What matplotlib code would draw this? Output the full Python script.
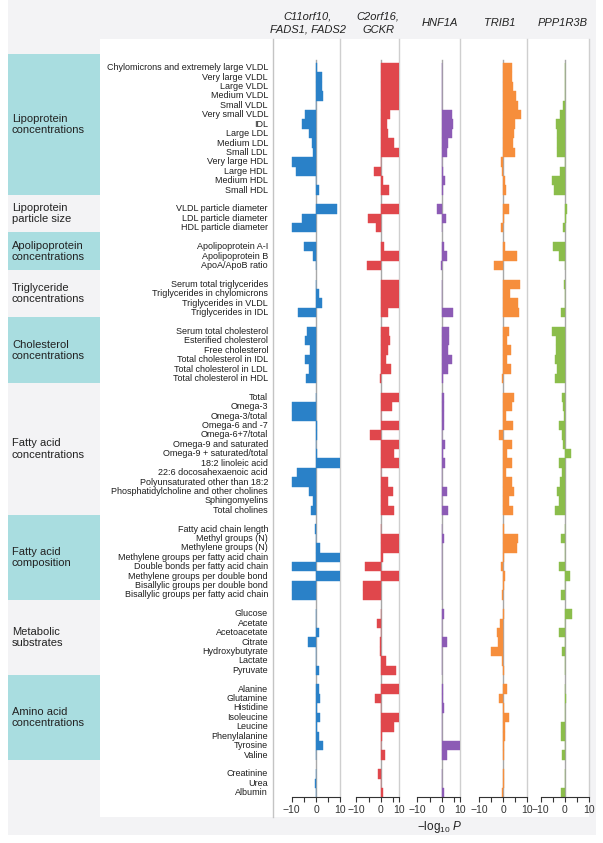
import matplotlib
matplotlib.use('Agg')
import matplotlib.pyplot as plt
from matplotlib.patches import Rectangle
from matplotlib.lines import Line2D

plt.rcParams['font.family'] = ['Liberation Sans', 'DejaVu Sans']
plt.rcParams['mathtext.fontset'] = 'custom'
plt.rcParams['mathtext.rm'] = 'Liberation Sans'
plt.rcParams['mathtext.it'] = 'Liberation Sans:italic'

# ---------------- data ----------------
group_names = ["Lipoprotein\nconcentrations", "Lipoprotein\nparticle size",
               "Apolipoprotein\nconcentrations", "Triglyceride\nconcentrations",
               "Cholesterol\nconcentrations", "Fatty acid\nconcentrations",
               "Fatty acid\ncomposition", "Metabolic\nsubstrates",
               "Amino acid\nconcentrations", ""]
group_sizes = [14, 3, 3, 4, 6, 13, 8, 7, 8, 3]

metabolites = [
    "Chylomicrons and extremely large VLDL", "Very large VLDL", "Large VLDL", "Medium VLDL",
    "Small VLDL", "Very small VLDL", "IDL", "Large LDL", "Medium LDL", "Small LDL",
    "Very large HDL", "Large HDL", "Medium HDL", "Small HDL",
    "VLDL particle diameter", "LDL particle diameter", "HDL particle diameter",
    "Apolipoprotein A-I", "Apolipoprotein B", "ApoA/ApoB ratio",
    "Serum total triglycerides", "Triglycerides in chylomicrons", "Triglycerides in VLDL",
    "Triglycerides in IDL",
    "Serum total cholesterol", "Esterified cholesterol", "Free cholesterol",
    "Total cholesterol in IDL", "Total cholesterol in LDL", "Total cholesterol in HDL",
    "Total", "Omega-3", "Omega-3/total", "Omega-6 and -7", "Omega-6+7/total",
    "Omega-9 and saturated", "Omega-9 + saturated/total", "18:2 linoleic acid",
    "22:6 docosahexaenoic acid", "Polyunsaturated other than 18:2",
    "Phosphatidylcholine and other cholines", "Sphingomyelins", "Total cholines",
    "Fatty acid chain length", "Methyl groups (N)", "Methylene groups (N)",
    "Methylene groups per fatty acid chain", "Double bonds per fatty acid chain",
    "Methylene groups per double bond", "Bisallylic groups per double bond",
    "Bisallylic groups per fatty acid chain",
    "Glucose", "Acetate", "Acetoacetate", "Citrate", "Hydroxybutyrate", "Lactate", "Pyruvate",
    "Alanine", "Glutamine", "Histidine", "Isoleucine", "Leucine", "Phenylalanine",
    "Tyrosine", "Valine",
    "Creatinine", "Urea", "Albumin"]

genes = ["C11orf10,\nFADS1, FADS2", "C2orf16,\nGCKR", "HNF1A", "TRIB1", "PPP1R3B"]

fads = [0.4, 2.4, 2.4, 3.0, 0.2, -4.5, -5.6, -2.7, -1.8, -1.4, -10, -8.4, -0.2, 1.4,
        8.5, -5.6, -10,
        -4.8, -1.1, 0.2,
        0.2, 1.2, 2.3, -7.5,
        -3.6, -4.4, -2.5, -4.7, -2.7, -4.1,
        0.2, -10, -10, 0.4, 0.3, 0.2, 0.3, 10, -8, -10, -2.9, -1.1, -2.2,
        -0.4, 0.2, 1.6, 10, -10, 10, -10, -10,
        0.2, 0.2, 1.2, -3.2, 0.2, 0.2, 1.4,
        1.2, 1.6, 0.3, 1.6, 0.3, 1.4, 2.7, 0.2,
        0.2, -0.4, 0.2]
gckr = [15, 15, 15, 15, 15, 3.8, 2.7, 3.2, 5.5, 15, 0.2, -2.6, 1.1, 3.6,
        15, -5.3, -1.9,
        1.4, 15, -5.6,
        15, 15, 15, 3.2,
        3.6, 3.8, 3.2, 2.2, 4.1, -0.3,
        15, 4.5, 0.2, 15, -4.4, 15, 5.5, 15, 0.2, 3.2, 4.9, 3.2, 5.5,
        0.2, 15, 15, 0.8, -6.4, 15, -7.4, -7.4,
        0.2, -1.6, 0.3, -0.4, -0.4, 2.2, 6.4,
        15, -2.5, 0.2, 15, 5.5, 0.7, 0.2, 1.8,
        -1.2, 0.2, 0.8]
hnf1a = [0.2, 0.2, 0.2, 0.2, 0.2, 4.1, 4.8, 4.1, 2.7, 2.0, 0.2, 0.7, 1.4, 0.4,
         -2.0, 1.8, 0.2,
         1.1, 2.0, -0.3,
         0.2, 0.2, 0.2, 4.8,
         3.0, 3.2, 2.7, 4.2, 2.7, 0.7,
         1.1, 1.0, 0.8, 1.0, 0.3, 1.2, 0.7, 1.4, 0.2, 0.2, 2.2, 0.3, 2.5,
         0.2, 0.8, 0.2, 0.2, 0.2, 0.2, 0.2, 0.2,
         1.0, 0.2, 0.2, 2.2, 0.2, 0.2, 0.2,
         0.7, 0.7, 0.8, 0.3, 0.3, 0.3, 9.0, 2.2,
         0.2, 0.2, 1.1]
trib1 = [3.4, 3.7, 4.1, 5.2, 6.2, 7.1, 4.8, 4.5, 4.1, 4.8, -1.1, -0.7, 0.8, 1.1,
         2.3, 0.2, -1.0,
         0.8, 5.8, -3.7,
         6.8, 2.7, 6.2, 6.6,
         2.3, 1.6, 3.0, 1.6, 3.2, -0.7,
         4.5, 3.7, 1.1, 4.1, -1.9, 3.6, 1.4, 3.4, 1.1, 3.7, 4.5, 2.5, 3.8,
         0.2, 6.0, 5.5, 0.2, -1.1, 0.8, 0.2, -0.5,
         0.2, -1.4, -2.5, -2.3, -5.1, -0.4, 0.3,
         1.4, -1.9, 0.2, 2.2, 0.8, 0.5, 0.2, 0.2,
         0.2, 0.2, -0.4]
ppp1r3b = [0.2, 0.2, 0.2, 0.2, -1.0, -2.0, -3.7, -3.4, -3.2, -3.2, 0.2, -2.0, -5.5, -4.4,
           0.7, 0.3, -0.7,
           -5.1, -2.3, 0.2,
           -0.3, 0.2, 0.2, -1.6,
           -5.3, -3.8, -3.7, -4.1, -3.2, -4.1,
           -1.1, -0.8, -0.3, -2.3, -1.1, -0.7, 2.3, -2.5, -1.4, -2.0, -3.2, -2.6, -4.0,
           0.2, -1.6, 0.2, 0.2, -2.3, 2.1, 0.2, -1.6,
           2.7, 0.2, -2.3, 0.2, -1.2, 0.2, 0.2,
           0.2, 0.3, 0.2, 0.2, -1.8, -1.8, 0.2, -1.1,
           0.2, 0.2, -1.6]
series = [fads, gckr, hnf1a, trib1, ppp1r3b]
colors = ["#2a81c8", "#e0474c", "#8c5bb5", "#f68e3c", "#8bbd4b"]

# ---------------- layout ----------------
W, H = 603, 843
fig = plt.figure(figsize=(W / 100, H / 100), dpi=100)
fig.patch.set_facecolor("white")


def fx(x):
    return x / W


def fy(y):
    return 1 - y / H


def rect(x0, y0, x1, y1, color, z=0):
    fig.patches.append(Rectangle((fx(x0), fy(y1)), (x1 - x0) / W, (y1 - y0) / H,
                                 transform=fig.transFigure, facecolor=color,
                                 edgecolor="none", zorder=z))


ROW0, DY = 67.7, 9.416
rows, first_rows = [], []
r = 0
for n in group_sizes:
    first_rows.append(r)
    rows.extend(range(r, r + n))
    r += n + 1

TOP, AXIS_Y, WHITE_BOT = 39, 797, 817
rect(8, 0, 596, 835, "#f3f3f5", 0)
rect(100, TOP, 589.3, WHITE_BOT, "white", 1)

# group boxes
box_tops = [ROW0 + (fr - 1.5) * DY for fr in first_rows] + [WHITE_BOT]
for g, name in enumerate(group_names):
    y0, y1 = box_tops[g], box_tops[g + 1]
    if g % 2 == 0:
        rect(8, y0, 100, y1, "#a9dde0", 2)
    if name:
        fig.text(fx(12), fy((y0 + y1) / 2), name, ha="left", va="center",
                 fontsize=8, color="#222222", linespacing=1.15)

# metabolite labels
for m, rr in zip(metabolites, rows):
    fig.text(fx(268), fy(ROW0 + rr * DY), m, ha="right", va="center",
             fontsize=6.5, color="#1e1e1e")

# panels
xb = [273.3, 340, 399, 460, 527.3, 589.3]
zeros = [316, 380.7, 441.7, 503.3, 565]
scale = 2.43
title_x = [308, 378, 440, 500, 563]
ybot = (AXIS_Y - ROW0) / DY
ytop = (TOP - ROW0) / DY

for k in range(5):
    ax = fig.add_axes([fx(xb[k]), fy(AXIS_Y), (xb[k + 1] - xb[k]) / W, (AXIS_Y - TOP) / H])
    ax.set_facecolor("none")
    ax.set_zorder(5)
    lo = (xb[k] - zeros[k]) / scale
    hi = (xb[k + 1] - zeros[k]) / scale
    ax.set_xlim(lo, hi)
    ax.set_ylim(ybot, ytop)
    ax.plot([0, 0], [-0.8, ybot], color="#a8a8a8", lw=1.0, zorder=1)
    ax.barh(rows, series[k], height=1.0, color=colors[k], edgecolor=colors[k],
            linewidth=0.3, zorder=2)
    for s in ["top", "right", "left"]:
        ax.spines[s].set_visible(False)
    right_end = min(10, hi)
    ax.spines["bottom"].set_bounds(-10, right_end)
    ax.spines["bottom"].set_color("#333333")
    ax.spines["bottom"].set_linewidth(0.8)
    ax.set_yticks([])
    ticks = [-10, -5, 0, 5, right_end]
    ax.set_xticks(ticks)
    ax.set_xticklabels(["\u221210", "", "0", "", "10"])
    ax.tick_params(axis="x", direction="out", length=3.5, width=0.8,
                   colors="#333333", labelsize=7.5, pad=2)
    fig.text(fx(title_x[k]), fy(23), genes[k], ha="center", va="center",
             fontsize=8, style="italic", color="#222222", linespacing=1.4)

# separators
lines = [Line2D([fx(xb[0]), fx(xb[0])], [fy(TOP), fy(WHITE_BOT)], color="#c4c4c4", lw=1.0)]
for x in xb[1:]:
    lines.append(Line2D([fx(x), fx(x)], [fy(TOP), fy(AXIS_Y)], color="#cfcfcf", lw=1.0))
for ln in lines:
    ln.set_transform(fig.transFigure)
    ln.set_zorder(3)
    fig.lines.append(ln)

fig.text(fx(440), fy(827), "\u2212log$_{10}$ $P$", ha="center", va="center",
         fontsize=8.5, color="#222222")

fig.savefig("out.png", dpi=100, facecolor=fig.get_facecolor())
